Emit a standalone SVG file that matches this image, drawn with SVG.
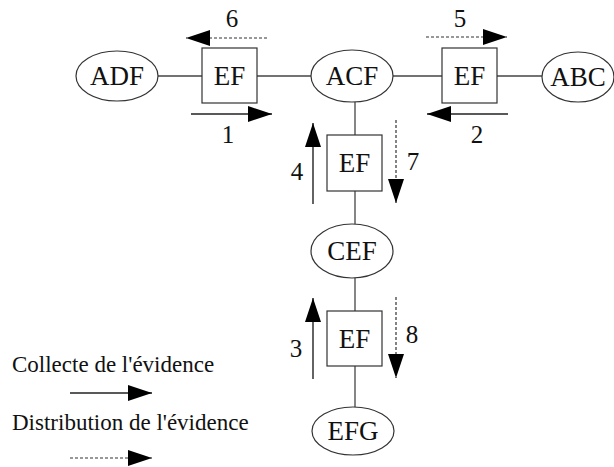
<svg xmlns="http://www.w3.org/2000/svg" width="614" height="467" viewBox="0 0 614 467">
  <style>
    .node { fill: #fff; stroke: #333; stroke-width: 1.2; }
    .lbl { font-family: "Liberation Serif", "Times New Roman", serif; font-size: 27px; fill: #111; text-anchor: middle; }
    .num { font-family: "Liberation Serif", "Times New Roman", serif; font-size: 25px; fill: #111; text-anchor: middle; }
    .legend { font-family: "Liberation Serif", "Times New Roman", serif; font-size: 23px; fill: #111; }
    .edge { stroke: #444; stroke-width: 1.3; fill: none; }
    .collect { stroke: #222; stroke-width: 1.4; fill: none; marker-end: url(#head); }
    .distrib { stroke: #333; stroke-width: 1.2; stroke-dasharray: 3 2; fill: none; marker-end: url(#head); }
  </style>
  <defs>
    <marker id="head" markerUnits="userSpaceOnUse" markerWidth="24" markerHeight="16" refX="24" refY="8" orient="auto">
      <path d="M0,0 L24,8 L0,16 z" fill="#000"/>
    </marker>
  </defs>
  <rect width="614" height="467" fill="#fff"/>

  <!-- links between cliques and separators -->
  <g id="connectors">
    <line class="edge" x1="158" y1="76" x2="202" y2="76"/>
    <line class="edge" x1="257" y1="76" x2="311" y2="76"/>
    <line class="edge" x1="393" y1="76" x2="442" y2="76"/>
    <line class="edge" x1="497" y1="76" x2="542" y2="76"/>
    <line class="edge" x1="355" y1="102" x2="355" y2="135"/>
    <line class="edge" x1="355" y1="191" x2="355" y2="224"/>
    <line class="edge" x1="355" y1="278" x2="355" y2="311"/>
    <line class="edge" x1="355" y1="366" x2="355" y2="407"/>
  </g>

  <!-- message passing arrows -->
  <g id="messages">
    <line class="collect" x1="191" y1="114" x2="272" y2="114"/>
    <line class="collect" x1="508" y1="114" x2="427" y2="114"/>
    <line class="collect" x1="313" y1="379" x2="313" y2="298"/>
    <line class="collect" x1="313" y1="204" x2="313" y2="123"/>
    <line class="distrib" x1="426" y1="37" x2="507" y2="37"/>
    <line class="distrib" x1="267" y1="38" x2="186" y2="38"/>
    <line class="distrib" x1="396" y1="120" x2="396" y2="203"/>
    <line class="distrib" x1="396" y1="297" x2="396" y2="378"/>
    <text class="num" x="228" y="143">1</text>
    <text class="num" x="477" y="143">2</text>
    <text class="num" x="296" y="357">3</text>
    <text class="num" x="297" y="180">4</text>
    <text class="num" x="460" y="27">5</text>
    <text class="num" x="232" y="27">6</text>
    <text class="num" x="413" y="170">7</text>
    <text class="num" x="412" y="343">8</text>
  </g>

  <g id="ADF">
    <ellipse class="node" cx="117" cy="76" rx="41" ry="25"/>
    <text class="lbl" x="117" y="85">ADF</text>
  </g>
  <g id="sep-ADF-ACF">
    <rect class="node" x="202" y="48" width="55" height="55"/>
    <text class="lbl" x="229.5" y="85">EF</text>
  </g>
  <g id="ACF">
    <ellipse class="node" cx="352" cy="76" rx="41" ry="26"/>
    <text class="lbl" x="352" y="85">ACF</text>
  </g>
  <g id="sep-ACF-ABC">
    <rect class="node" x="442" y="48" width="55" height="55"/>
    <text class="lbl" x="469.5" y="85">EF</text>
  </g>
  <g id="ABC">
    <ellipse class="node" cx="578" cy="77" rx="36" ry="25"/>
    <text class="lbl" x="578" y="86">ABC</text>
  </g>
  <g id="sep-ACF-CEF">
    <rect class="node" x="327" y="135" width="55" height="56"/>
    <text class="lbl" x="354.5" y="172">EF</text>
  </g>
  <g id="CEF">
    <ellipse class="node" cx="352" cy="251" rx="41" ry="27"/>
    <text class="lbl" x="352" y="260">CEF</text>
  </g>
  <g id="sep-CEF-EFG">
    <rect class="node" x="327" y="311" width="55" height="55"/>
    <text class="lbl" x="354.5" y="348">EF</text>
  </g>
  <g id="EFG">
    <ellipse class="node" cx="353" cy="431" rx="41" ry="24"/>
    <text class="lbl" x="353" y="440">EFG</text>
  </g>

  <g id="legend">
    <text class="legend" x="12" y="372">Collecte de l'évidence</text>
    <line class="collect" x1="70" y1="393" x2="152" y2="393"/>
    <text class="legend" x="12" y="430">Distribution de l'évidence</text>
    <line class="distrib" x1="70" y1="458" x2="152" y2="458"/>
  </g>
</svg>
